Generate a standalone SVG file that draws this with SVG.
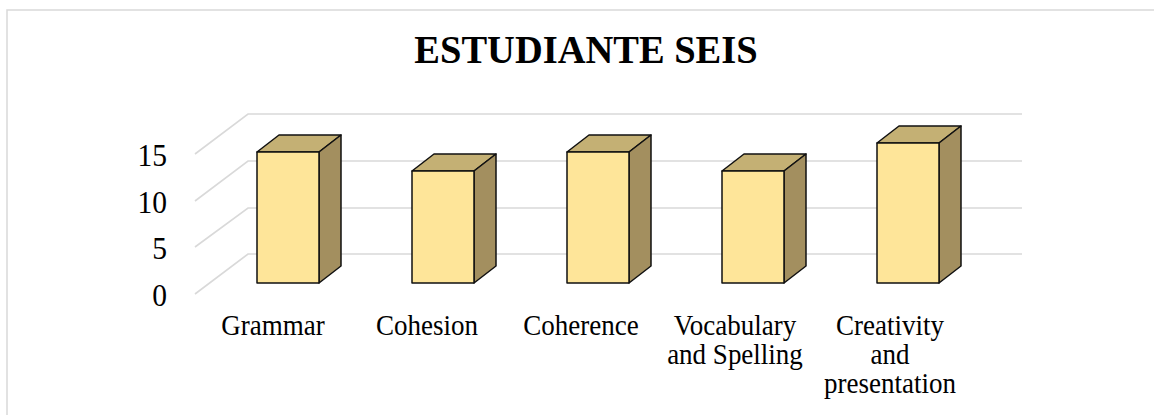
<svg xmlns="http://www.w3.org/2000/svg" width="1154" height="415" viewBox="0 0 1154 415">
<style>
.grid{stroke:#d9d9d9;stroke-width:1.6;fill:none}
.front{fill:#fee599;stroke:#111;stroke-width:1.5;stroke-linejoin:round}
.top{fill:#c4b074;stroke:#111;stroke-width:1.5;stroke-linejoin:round}
.side{fill:#a38f5f;stroke:#111;stroke-width:1.5;stroke-linejoin:round}
.ax{font-family:"Liberation Serif","Times New Roman",serif;font-size:29.5px;fill:#000;text-anchor:end}
.cat{font-family:"Liberation Serif","Times New Roman",serif;font-size:27px;fill:#000;text-anchor:middle}
.title{font-family:"Liberation Serif","Times New Roman",serif;font-size:38.5px;font-weight:bold;fill:#000;text-anchor:middle}
</style>
<rect x="0" y="0" width="1154" height="415" fill="#fff"/>
<rect id="frame" x="7" y="10" width="1160" height="420" fill="#fff" stroke="#d9d9d9" stroke-width="1.5"/>
<text id="title" class="title" transform="translate(586,63) scale(1,1.06)">ESTUDIANTE SEIS</text>
<g id="gridlines">
<polyline class="grid" points="195,154 248,114 1022,114"/>
<polyline class="grid" points="195,201 248,161 1022,161"/>
<polyline class="grid" points="195,247 248,208 1022,208"/>
<polyline class="grid" points="195,294 248,254 1022,254"/>
</g>
<g id="yaxis">
<text class="ax" transform="translate(167,166) scale(1,1.08)">15</text>
<text class="ax" transform="translate(167,212.7) scale(1,1.08)">10</text>
<text class="ax" transform="translate(167,259.3) scale(1,1.08)">5</text>
<text class="ax" transform="translate(167,306) scale(1,1.08)">0</text>
</g>
<g id="bar-grammar">
<polygon class="top" points="257,152 279,135 341,135 319,152"/>
<polygon class="side" points="319,152 341,135 341,266 319,283"/>
<rect class="front" x="257" y="152" width="62" height="131"/>
</g>
<g id="bar-cohesion">
<polygon class="top" points="412,171 434,154 496,154 474,171"/>
<polygon class="side" points="474,171 496,154 496,266 474,283"/>
<rect class="front" x="412" y="171" width="62" height="112"/>
</g>
<g id="bar-coherence">
<polygon class="top" points="567,152 589,135 651,135 629,152"/>
<polygon class="side" points="629,152 651,135 651,266 629,283"/>
<rect class="front" x="567" y="152" width="62" height="131"/>
</g>
<g id="bar-vocabulary">
<polygon class="top" points="722,171 744,154 806,154 784,171"/>
<polygon class="side" points="784,171 806,154 806,266 784,283"/>
<rect class="front" x="722" y="171" width="62" height="112"/>
</g>
<g id="bar-creativity">
<polygon class="top" points="877,143 899,126 961,126 939,143"/>
<polygon class="side" points="939,143 961,126 961,266 939,283"/>
<rect class="front" x="877" y="143" width="62" height="140"/>
</g>
<g id="categories">
<text class="cat" transform="translate(273,335) scale(1,1.08)">Grammar</text>
<text class="cat" transform="translate(427,335) scale(1,1.08)">Cohesion</text>
<text class="cat" transform="translate(581,335) scale(1,1.08)">Coherence</text>
<text class="cat" transform="translate(735,335) scale(1,1.08)">Vocabulary</text>
<text class="cat" transform="translate(735,364) scale(1,1.08)">and Spelling</text>
<text class="cat" transform="translate(890,335) scale(1,1.08)">Creativity</text>
<text class="cat" transform="translate(890,364) scale(1,1.08)">and</text>
<text class="cat" transform="translate(890,393) scale(1,1.08)">presentation</text>
</g>
</svg>
